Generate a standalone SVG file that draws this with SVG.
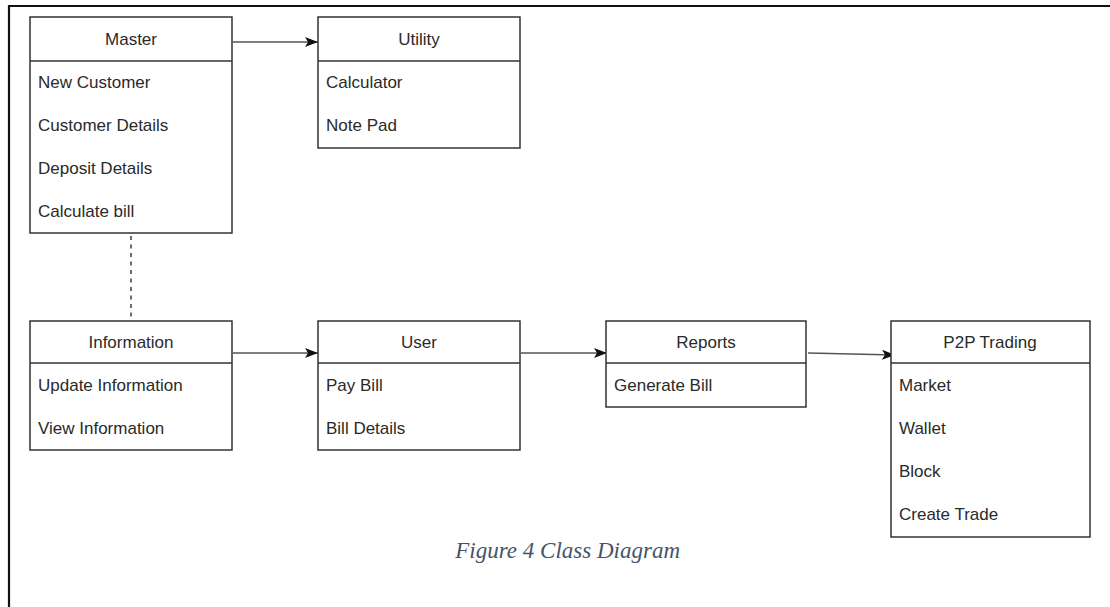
<svg xmlns="http://www.w3.org/2000/svg" width="1110" height="607" viewBox="0 0 1110 607">
<style>
.box{fill:#ffffff;stroke:#333333;stroke-width:1.5}
.sep{stroke:#333333;stroke-width:1.5}
.hd{font-family:"Liberation Sans",Arial,sans-serif;font-size:17px;fill:#2a2a2a;text-anchor:middle}
.it{font-family:"Liberation Sans",Arial,sans-serif;font-size:17px;fill:#2a2a2a}
.conn{stroke:#555555;stroke-width:1.7;fill:none}
.cap{font-family:"Liberation Serif","Times New Roman",serif;font-style:italic;font-size:23px;fill:#44546A}
</style>
<defs>
<marker id="arr" markerUnits="userSpaceOnUse" markerWidth="13" markerHeight="10" refX="13" refY="5" orient="auto">
<path d="M0,0 L13,5 L0,10 L3,5 z" fill="#111111"/>
</marker>
</defs>
<rect width="1110" height="607" fill="#ffffff"/>
<g id="frame">
<line x1="9" y1="6" x2="1110" y2="6" stroke="#111" stroke-width="2.2"/>
<line x1="9" y1="5" x2="9" y2="607" stroke="#111" stroke-width="2.2"/>
</g>
<g id="connectors">
<line class="conn" x1="233" y1="42" x2="318" y2="42" marker-end="url(#arr)"/>
<line class="conn" x1="131" y1="236" x2="131" y2="320" stroke-dasharray="4 4.5" stroke="#222"/>
<line class="conn" x1="233" y1="353" x2="318" y2="353" marker-end="url(#arr)"/>
<line class="conn" x1="521" y1="353" x2="607" y2="353" marker-end="url(#arr)"/>
<line class="conn" x1="808" y1="353" x2="895" y2="355" marker-end="url(#arr)"/>
</g>
<g id="master">
<rect class="box" x="30" y="17" width="202" height="216"/>
<line class="sep" x1="30" y1="61" x2="232" y2="61"/>
<text class="hd" x="131" y="45">Master</text>
<text class="it" x="38" y="88">New Customer</text>
<text class="it" x="38" y="131">Customer Details</text>
<text class="it" x="38" y="174">Deposit Details</text>
<text class="it" x="38" y="217">Calculate bill</text>
</g>
<g id="utility">
<rect class="box" x="318" y="17" width="202" height="131"/>
<line class="sep" x1="318" y1="61" x2="520" y2="61"/>
<text class="hd" x="419" y="45">Utility</text>
<text class="it" x="326" y="88">Calculator</text>
<text class="it" x="326" y="131">Note Pad</text>
</g>
<g id="information">
<rect class="box" x="30" y="321" width="202" height="129"/>
<line class="sep" x1="30" y1="363" x2="232" y2="363"/>
<text class="hd" x="131" y="348">Information</text>
<text class="it" x="38" y="391">Update Information</text>
<text class="it" x="38" y="434">View Information</text>
</g>
<g id="user">
<rect class="box" x="318" y="321" width="202" height="129"/>
<line class="sep" x1="318" y1="363" x2="520" y2="363"/>
<text class="hd" x="419" y="348">User</text>
<text class="it" x="326" y="391">Pay Bill</text>
<text class="it" x="326" y="434">Bill Details</text>
</g>
<g id="reports">
<rect class="box" x="606" y="321" width="200" height="86"/>
<line class="sep" x1="606" y1="363" x2="806" y2="363"/>
<text class="hd" x="706" y="348">Reports</text>
<text class="it" x="614" y="391">Generate Bill</text>
</g>
<g id="p2p">
<rect class="box" x="891" y="321" width="199" height="216"/>
<line class="sep" x1="891" y1="363" x2="1090" y2="363"/>
<text class="hd" x="990" y="348">P2P Trading</text>
<text class="it" x="899" y="391">Market</text>
<text class="it" x="899" y="434">Wallet</text>
<text class="it" x="899" y="477">Block</text>
<text class="it" x="899" y="520">Create Trade</text>
</g>
<g id="caption">
<text class="cap" x="680" y="558" text-anchor="end">Figure 4 Class Diagram</text>
</g>
</svg>
